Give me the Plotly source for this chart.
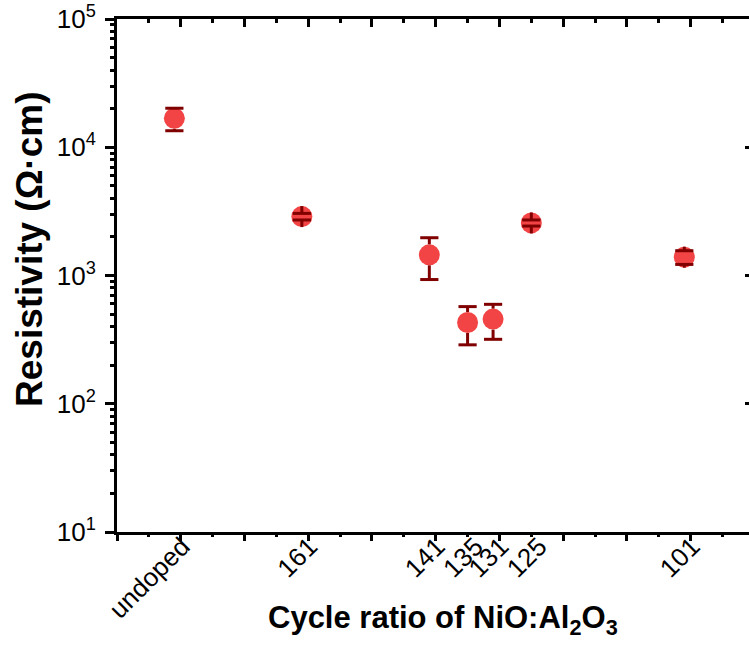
import plotly.graph_objects as go

# Samples: NiO:Al2O3 cycle ratios, placed on a reversed linear position axis
labels = ["undoped", "161", "141", "135", "131", "125", "101"]
positions = [181, 161, 141, 135, 131, 125, 101]
resistivity = [16800, 2880, 1450, 430, 457, 2570, 1390]   # Ohm*cm
resistivity_err = [3350, 170, 520, 142, 139, 140, 170]

y_tickvals = [10, 100, 1000, 10000, 100000]
y_ticktext = ["10<sup>1</sup>", "10<sup>2</sup>", "10<sup>3</sup>", "10<sup>4</sup>", "10<sup>5</sup>"]

W, H = 749, 647
ML, MR, MT, MB = 117, 0, 19, 115
X_RANGE = [190, 90.85]
Y_RANGE = [1, 5]

MARKER_FILL = "#F24444"
BAR_COLOR = "#800000"
MARKER_SIZE = 21
FONT = "Liberation Sans, Arial, sans-serif"

# log minor ticks at 2..9 within each decade
y_minor = [m * 10 ** d for d in range(1, 5) for m in range(2, 10)]

# Error bars are drawn from the marker edge out to the cap, so the
# part of each stem that falls inside the marker is left out.
plot_h = H - MT - MB
decade_px = plot_h / (Y_RANGE[1] - Y_RANGE[0])
edge = 10 ** ((MARKER_SIZE / 2) / decade_px)

stem_x, stem_y = [], []
cap_x, cap_y = [], []
for p, r, e in zip(positions, resistivity, resistivity_err):
    hi, lo = r + e, r - e
    stem_x += [p, p, None, p, p, None]
    stem_y += [r * edge, hi, None, r / edge, lo, None]
    cap_x += [p, p]
    cap_y += [hi, lo]

fig = go.Figure()

fig.add_trace(go.Scatter(
    x=positions, y=resistivity, mode="markers",
    marker=dict(size=MARKER_SIZE, color=MARKER_FILL, line=dict(width=0)),
    showlegend=False, hoverinfo="x+y",
))
fig.add_trace(go.Scatter(
    x=stem_x, y=stem_y, mode="lines",
    line=dict(color=BAR_COLOR, width=3),
    showlegend=False, hoverinfo="skip",
))
fig.add_trace(go.Scatter(
    x=cap_x, y=cap_y, mode="markers",
    marker=dict(symbol="line-ew", size=13, line=dict(color=BAR_COLOR, width=3)),
    showlegend=False, hoverinfo="skip",
))

tick_font = dict(family=FONT, size=26, color="black")

fig.update_layout(
    width=W, height=H,
    margin=dict(l=ML, r=MR, t=MT, b=MB, pad=0),
    paper_bgcolor="white", plot_bgcolor="white",
    font=dict(family=FONT, color="black"),
    xaxis=dict(
        range=X_RANGE, tickmode="array", tickvals=positions, ticktext=labels,
        tickangle=-45, tickfont=tick_font, ticks="",
        ticklabelstandoff=-14, ticklabelshift=-8,
        showline=True, linecolor="black", linewidth=3,
        showgrid=False, zeroline=False,
    ),
    # tick marks along the bottom edge
    xaxis2=dict(
        range=X_RANGE, overlaying="x", anchor="y", side="bottom",
        tickmode="linear", tick0=90, dtick=10, ticks="outside", ticklen=8,
        tickwidth=2.5, tickcolor="black", showticklabels=False,
        minor=dict(tickmode="linear", tick0=85, dtick=10, ticks="outside",
                   ticklen=4, tickwidth=2.5, tickcolor="black"),
        showline=False, showgrid=False, zeroline=False,
    ),
    # top frame with inward ticks
    xaxis3=dict(
        range=X_RANGE, overlaying="x", anchor="y", side="top",
        tickmode="linear", tick0=90, dtick=10, ticks="inside", ticklen=8,
        tickwidth=2.5, tickcolor="black", showticklabels=False,
        minor=dict(tickmode="linear", tick0=85, dtick=10, ticks="inside",
                   ticklen=4, tickwidth=2.5, tickcolor="black"),
        showline=True, linecolor="black", linewidth=3,
        showgrid=False, zeroline=False,
    ),
    yaxis=dict(
        type="log", range=Y_RANGE, tickmode="array",
        tickvals=y_tickvals, ticktext=y_ticktext, tickfont=tick_font,
        ticks="outside", ticklen=9, tickwidth=2.5, tickcolor="black",
        ticklabelstandoff=4,
        minor=dict(tickmode="array", tickvals=y_minor, ticks="outside",
                   ticklen=4, tickwidth=2.5, tickcolor="black"),
        showline=True, linecolor="black", linewidth=3,
        showgrid=False, zeroline=False,
    ),
    yaxis2=dict(
        type="log", range=Y_RANGE, overlaying="y", anchor="x", side="right",
        tickmode="array", tickvals=y_tickvals, ticks="inside", ticklen=4,
        tickwidth=3, tickcolor="black", showticklabels=False,
        showline=False, showgrid=False, zeroline=False,
    ),
    annotations=[
        dict(text="<b>Resistivity (Ω·cm)</b>", textangle=-90,
             xref="paper", yref="paper", x=(29 - ML) / (W - ML - MR),
             y=(H - MB - 250) / plot_h, xanchor="center", yanchor="middle",
             showarrow=False, font=dict(family=FONT, size=37, color="black")),
        dict(text="<b>Cycle ratio of NiO:Al<sub>2</sub>O<sub>3</sub></b>",
             xref="paper", yref="paper", x=(443 - ML) / (W - ML - MR),
             y=(H - MB - 620) / plot_h, xanchor="center", yanchor="middle",
             showarrow=False, font=dict(family=FONT, size=31, color="black")),
    ],
)

# attach the helper axes so they get drawn
fig.add_trace(go.Scatter(x=[None], y=[None], xaxis="x2", yaxis="y", showlegend=False, hoverinfo="skip"))
fig.add_trace(go.Scatter(x=[None], y=[None], xaxis="x3", yaxis="y", showlegend=False, hoverinfo="skip"))
fig.add_trace(go.Scatter(x=[None], y=[None], xaxis="x", yaxis="y2", showlegend=False, hoverinfo="skip"))

fig.write_html("out.html")
